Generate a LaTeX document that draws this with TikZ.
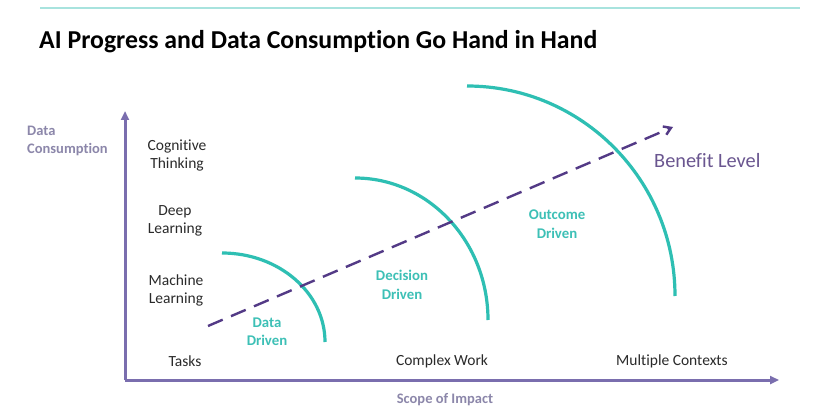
\documentclass[tikz,border=0pt]{standalone}
\usepackage{fontspec}
\setmainfont{Carlito}[Ligatures=NoCommon]
\usetikzlibrary{arrows.meta}
\definecolor{axisc}{HTML}{7A6EAE}
\definecolor{tealc}{HTML}{2EBFB3}
\definecolor{tlab}{HTML}{3DC0B6}
\definecolor{linec}{HTML}{A8E3DE}
\definecolor{dashc}{HTML}{533A86}
\definecolor{benc}{HTML}{6A5690}
\definecolor{graylab}{HTML}{8C87AA}
\definecolor{textc}{HTML}{2A2A2A}
\tikzset{
  axisline/.style={draw=axisc, line width=3pt, -{Triangle[length=9pt,width=8pt]}},
  arcline/.style={draw=tealc, line width=3.2pt},
  ylab/.style={font=\fontsize{15.5}{18}\selectfont, text=textc, align=center, inner sep=0pt},
  axlab/.style={font=\fontsize{14.5}{18}\selectfont\bfseries, text=graylab, align=left, inner sep=0pt},
  drvlab/.style={font=\fontsize{14.8}{18.5}\selectfont\bfseries, text=tlab, align=center, inner sep=0pt},
}
\begin{document}
\begin{tikzpicture}[x=1pt,y=-1pt]
\useasboundingbox (0,0) rectangle (821,414);
\fill[white] (0,0) rectangle (821,414);
% top line
\coordinate (tl1) at (40,8);
\coordinate (tl2) at (800,8);
\draw[linec, line width=1.6pt] (tl1) -- (tl2);
% title
\node[anchor=west, inner sep=0pt, font=\fontsize{25.8}{30}\selectfont\bfseries, text=black] (title) at (39,42) {AI Progress and Data Consumption Go Hand in Hand};
% axes
\coordinate (org) at (125,380);
\coordinate (ytip) at (125,111);
\coordinate (xtip) at (779,380);
\draw[axisline] (org) -- (ytip);
\draw[axisline] (org) -- (xtip);
% axis labels
\node[axlab, anchor=west] (ylabel) at (27,141) {Data\\Consumption};
\node[axlab, anchor=center] (xlabel) at (445,400) {Scope of Impact};
% y tick labels
\node[ylab] (cog) at (177,156) {Cognitive\\Thinking};
\node[ylab] (deep) at (175,221) {Deep\\Learning};
\node[ylab] (ml) at (176,290) {Machine\\Learning};
\node[ylab] (tasks) at (185,361) {Tasks};
\node[ylab] (cw) at (442,361) {Complex Work};
\node[ylab] (mc) at (672,361) {Multiple Contexts};
% arcs
\coordinate (a1s) at (222,253);
\coordinate (a2s) at (355,178);
\coordinate (a3s) at (467,86);
\draw[arcline] (a1s) arc[start angle=-90, end angle=0, x radius=103, y radius=89];
\draw[arcline] (a2s) arc[start angle=-90, end angle=0, x radius=133, y radius=142];
\draw[arcline] (a3s) arc[start angle=-90, end angle=0, x radius=208, y radius=210];
% dashed benefit line
\coordinate (d1) at (208,326);
\coordinate (d2) at (673,127);
\draw[dashc, line width=2.4pt, dash pattern=on 16pt off 9pt, -{Straight Barb[length=7pt,width=9pt]}] (d1) -- (d2);
\node[anchor=west, inner sep=0pt, font=\fontsize{20.3}{24}\selectfont, text=benc] (ben) at (654,161) {Benefit Level};
% driven labels
\node[drvlab] (dd) at (267,332) {Data\\Driven};
\node[drvlab] (dec) at (402,285) {Decision\\Driven};
\node[drvlab] (out) at (557,224) {Outcome\\Driven};
\end{tikzpicture}
\end{document}
